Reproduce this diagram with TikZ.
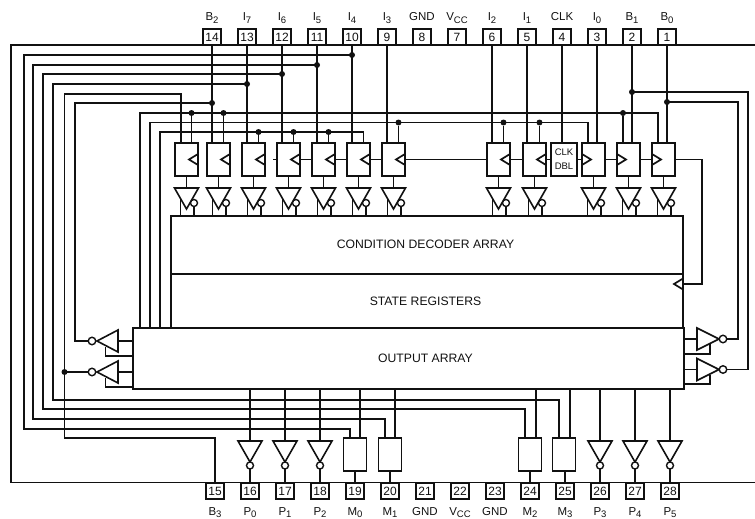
\documentclass[tikz,border=0pt]{standalone}
\usepackage{fontspec}
\setmainfont{Liberation Sans}
\usepackage{xcolor}
\usetikzlibrary{shapes.geometric}
\definecolor{fg}{HTML}{111111}
\newcommand{\pinsub}[1]{\raisebox{-0.45ex}{\fontsize{9.5}{10}\selectfont #1}}
\tikzset{
  wire/.style={draw=fg,line width=1.7pt},
  pinbox/.style={draw=fg,line width=1.2pt,fill=white,minimum width=18pt,minimum height=16pt,inner sep=0pt,outer sep=0pt,font=\fontsize{12}{14}\selectfont,text=fg},
  pinlabel/.style={anchor=base,inner sep=0pt,font=\fontsize{11.5}{14}\selectfont,text=fg},
  ffbox/.style={draw=fg,line width=1.6pt,fill=white,minimum width=23pt,minimum height=33pt,inner sep=0pt,outer sep=0pt},
  clkmark/.style={draw=fg,line width=1.7pt,fill=white,isosceles triangle,isosceles triangle stretches,minimum height=9pt,minimum width=11pt,inner sep=0pt,outer sep=0pt,anchor=lower side},
  nbuf/.style={draw=fg,line width=1.6pt,fill=white,isosceles triangle,isosceles triangle stretches,minimum height=21pt,minimum width=24pt,inner sep=0pt,outer sep=0pt,anchor=lower side},
  bubble/.style={circle,draw=fg,line width=1.4pt,fill=white,minimum size=7pt,inner sep=0pt,outer sep=0pt},
  dot/.style={circle,fill=fg,minimum size=6pt,inner sep=0pt,outer sep=0pt},
  arraybox/.style={draw=fg,line width=1.6pt,fill=white,inner sep=0pt,outer sep=0pt,font=\fontsize{12.2}{14}\selectfont,text=fg}
}
\begin{document}
\begin{tikzpicture}[x=1pt,y=-1pt]
  \useasboundingbox (0,0) rectangle (755,519);
  \draw[draw=fg,line width=1.2pt] (755,45) -- (11,45) -- (11,482.5) -- (755,482.5);

  \foreach \n/\x/\lab in {14/212/B\pinsub{2},13/247/I\pinsub{7},12/282/I\pinsub{6},11/317/I\pinsub{5},10/352/I\pinsub{4},9/387/I\pinsub{3},8/422/GND,7/457/V\pinsub{CC},6/492/I\pinsub{2},5/527/I\pinsub{1},4/562/CLK,3/597/I\pinsub{0},2/632/B\pinsub{1},1/667/B\pinsub{0}} {
    \node[pinbox] (p\n) at (\x,37) {\n};
    \node[pinlabel] (l\n) at (\x,21) {\lab};
  }
  \foreach \n/\x/\lab in {15/215/B\pinsub{3},16/250/P\pinsub{0},17/285/P\pinsub{1},18/320/P\pinsub{2},19/355/M\pinsub{0},20/390/M\pinsub{1},21/425/GND,22/460/V\pinsub{CC},23/495/GND,24/530/M\pinsub{2},25/565/M\pinsub{3},26/600/P\pinsub{3},27/635/P\pinsub{4},28/670/P\pinsub{5}} {
    \node[pinbox] (p\n) at (\x,491) {\n};
    \node[pinlabel] (l\n) at (\x,515) {\lab};
  }

  \node[arraybox,minimum width=512pt,minimum height=58pt] (cda) at (427,245) {};
  \node[arraybox,minimum width=512pt,minimum height=54pt] (sr) at (427,301) {};
  \node[arraybox,minimum width=551pt,minimum height=61pt] (oa) at (408.5,358.5) {};
  \foreach \t/\y/\lab in {cdatext/244/CONDITION DECODER ARRAY,srtext/301/STATE REGISTERS,oatext/358/OUTPUT ARRAY} {
    \node[inner sep=0pt,font=\fontsize{12.2}{14}\selectfont,text=fg] (\t) at (425.5,\y) {\lab};
  }

  \foreach \i/\x in {1/186.5,2/218.5,3/253.5,4/288.5,5/323.5,6/358.5,7/393.5,8/498.5,9/534.5,10/593.5,11/628.5,12/663.5} {
    \node[ffbox] (ff\i) at (\x,159.5) {};
    \coordinate (da\i) at (\x-5.5,143);
    \coordinate (db\i) at (\x+5,143);
    \node[nbuf,shape border rotate=-90] (buf\i) at (\x,188) {};
    \node[bubble] (bub\i) at (\x+7.5,203) {};
    \draw[wire] (ff\i.south) -- (buf\i.lower side);
    \draw[wire] (buf\i.right side) -- (buf\i.right side |- cda.north);
    \draw[wire] (bub\i.south) -- (bub\i.south |- cda.north);
  }
  \node[draw=fg,line width=1.6pt,fill=white,minimum width=26pt,minimum height=33pt,inner sep=0pt,outer sep=0pt,align=center,font=\fontsize{9.5}{14}\selectfont,text=fg] (dbl) at (564,159.5) {CLK\\DBL};

  \foreach \i in {1,...,9} {
    \node[clkmark,shape border rotate=180] (mk\i) at (ff\i.east) {};
  }
  \foreach \i in {10,11,12} {
    \node[clkmark] (mk\i) at (ff\i.west) {};
  }
  \node[clkmark,shape border rotate=180] (mksr) at (683,284) {};

  \coordinate (stub) at (272.5,159.5);
  \foreach \a/\b in {dbl/ff9,ff9/ff8,ff8/ff7,ff7/ff6,ff6/ff5,ff5/ff4} {
    \draw[wire] (\a.west) -- (\b.east);
  }
  \draw[wire] (ff4.west) -- (stub);
  \foreach \a/\b in {dbl/ff10,ff10/ff11,ff11/ff12} {
    \draw[wire] (\a.east) -- (\b.west);
  }
  \draw[wire] (ff12.east) -| (702,284) -- (mksr.lower side);

  \foreach \n/\f in {14/2,13/3,12/4,11/5,10/6,9/7,6/8,5/9,3/10,2/11,1/12} {
    \draw[wire] (p\n.south) -- (p\n.south |- ff\f.north);
  }
  \draw[wire] (p4.south) -- (p4.south |- dbl.north);

  \foreach \pin/\y/\x/\yb/\bx/\xb in {10/55/24/429/m0/350,11/65/33/419/m1/385,12/74/43/409/m2/525,13/84/53/400/m3/559} {
    \coordinate (j\pin) at (p\pin.south |- 0,\y);
    \node[ffbox] (\bx) at (\xb+5,454.5) {};
    \draw[wire] (j\pin) -| (\x,\yb) -| (\xb,0 |- \bx.north);
    \node[dot] (d\pin) at (j\pin) {};
  }
  \foreach \m/\n/\xa in {m0/19/360,m1/20/395,m2/24/536,m3/25/570} {
    \draw[wire] (\xa,0 |- oa.south) -- (\xa,0 |- \m.north);
    \draw[wire] (p\n.north) -- (p\n.north |- \m.south);
  }
  \foreach \n in {16,17,18,26,27,28} {
    \node[nbuf,shape border rotate=-90] (q\n) at (p\n.center |- 0,441) {};
    \node[bubble] (qb\n) at (p\n.center |- 0,465.5) {};
    \draw[wire] (p\n.center |- oa.south) -- (q\n.lower side);
    \draw[wire] (qb\n.south) -- (p\n.north);
  }

  \node[nbuf,minimum height=21pt,minimum width=22pt,shape border rotate=180] (bl1) at (118,341) {};
  \node[nbuf,minimum height=21pt,minimum width=22pt,shape border rotate=180] (bl2) at (118,372) {};
  \node[bubble,minimum size=7.5pt] (bbl1) at (92,341) {};
  \node[bubble,minimum size=7.5pt] (bbl2) at (92,372) {};
  \draw[wire] (oa.west |- bl1.lower side) -- (bl1.lower side);
  \draw[wire] (oa.west |- bl2.lower side) -- (bl2.lower side);
  \draw[wire] (oa.west |- 0,356) -| (105.5,347);
  \draw[wire] (oa.west |- 0,387) -| (105.5,378);

  \node[nbuf,minimum height=22pt,minimum width=22pt] (br1) at (697,339) {};
  \node[nbuf,minimum height=22pt,minimum width=22pt] (br2) at (697,369.5) {};
  \node[bubble,minimum size=7.5pt] (bbr1) at (723,339) {};
  \node[bubble,minimum size=7.5pt] (bbr2) at (723,369.5) {};
  \draw[wire] (oa.east |- br1.lower side) -- (br1.lower side);
  \draw[wire] (oa.east |- br2.lower side) -- (br2.lower side);
  \draw[wire] (oa.east |- 0,354) -| (710,344);
  \draw[wire] (oa.east |- 0,384) -| (710,374.5);

  \coordinate (j1) at (p1.south |- 0,102);
  \coordinate (j2) at (p2.south |- 0,92);
  \draw[wire] (j1) -| (738,339) -- (bbr1.east);
  \draw[wire] (j2) -| (748,369.5) -- (bbr2.east);
  \node[dot] (d1) at (j1) {};
  \node[dot] (d2) at (j2) {};

  \coordinate (j14) at (p14.south |- 0,103);
  \coordinate (j15) at (64.5,372);
  \draw[wire] (j14) -| (75,341) -- (bbl1.west);
  \draw[wire] (bbl2.west) -- (j15);
  \draw[wire] (da1) |- (64.5,94) -- (64.5,438) -| (p15.north);
  \node[dot] (d14) at (j14) {};
  \node[dot] (d15) at (j15) {};

  \draw[wire] (140,0 |- oa.north) |- (da12 |- 0,113) -- (da12);
  \draw[wire] (150,0 |- oa.north) |- (da10 |- 0,122.5) -- (da10);
  \draw[wire] (160,0 |- oa.north) |- (db6 |- 0,132) -- (db6);
  \foreach \c/\y in {db1/113,db2/113,da11/113,db7/122.5,db8/122.5,db9/122.5,db3/132,db4/132,db5/132} {
    \node[dot] (t\c) at (\c |- 0,\y) {};
    \draw[wire] (\c) -- (t\c);
  }
\end{tikzpicture}
\end{document}
